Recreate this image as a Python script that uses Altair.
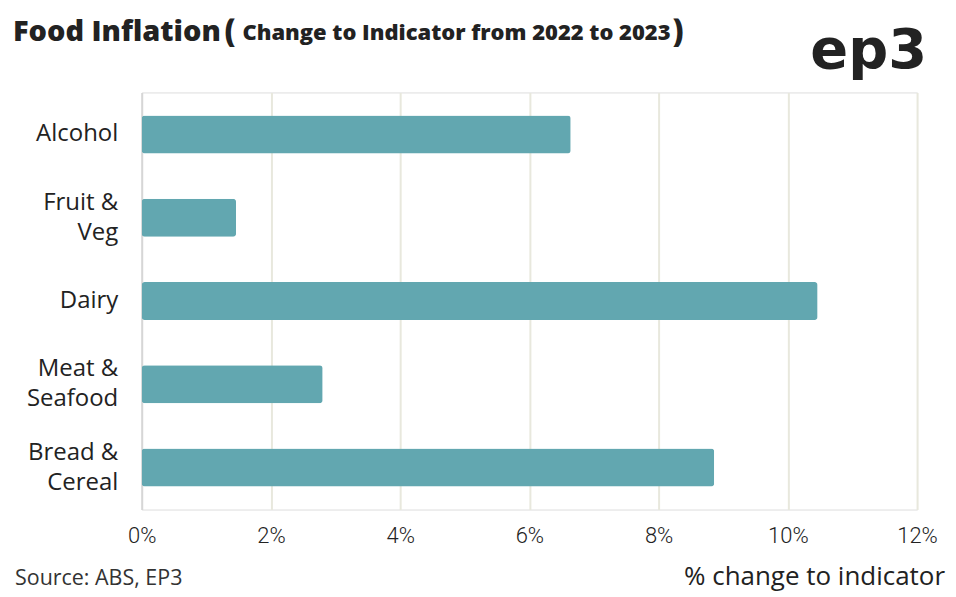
import altair as alt
import pandas as pd

categories = ["Alcohol", "Fruit &\nVeg", "Dairy", "Meat &\nSeafood", "Bread &\nCereal"]
values = [6.64, 1.46, 10.46, 2.80, 8.86]
x_ticks = [0, 2, 4, 6, 8, 10, 12]

df = pd.DataFrame({"cat": categories, "val": values})

W, H = 777, 418
FONT = "Open Sans"
LH = 30

bars = alt.Chart(df).mark_bar(color="#62A7B0", cornerRadius=3).encode(
    x=alt.X("val:Q",
            scale=alt.Scale(domain=[0, 12], nice=False),
            axis=alt.Axis(values=x_ticks, labelExpr="datum.value + '%'",
                          title=None, domain=False, ticks=False, labelFlush=False,
                          labelFontSize=22, labelColor="#222", labelFont="Roboto",
                          labelFontWeight=300,
                          labelPadding=16, grid=True,
                          gridColor={"condition": {"test": "datum.value === 0", "value": "#D6D6D6"}, "value": "#E8E8DD"},
                          gridWidth=2)),
    y=alt.Y("cat:N", sort=categories,
            scale=alt.Scale(paddingInner=0.544, paddingOuter=0.276),
            axis=alt.Axis(title=None, domain=False, ticks=False,
                          labelFontSize=24, labelColor="#222", labelFont=FONT,
                          labelPadding=24, labelLineHeight=LH, labelAlign="right",
                          labelOffset={"condition": {"test": "indexof(datum.label, '\\n') >= 0", "value": -LH / 2}, "value": 0},
                          labelExpr="split(datum.label, '\\n')")),
)

def txt(text, x, y, size, weight="normal", align="left", color="#222", font=FONT):
    return alt.Chart(pd.DataFrame({"t": [text]})).mark_text(
        align=align, baseline="alphabetic", fontSize=size, fontWeight=weight,
        color=color, font=font).encode(
        text="t:N", x=alt.value(x), y=alt.value(y))

ox, oy = 142, 92
title1 = txt("Food Inflation", 13 - ox, 40 - oy, 29, weight=800)
paren1 = txt("(", 225 - ox, 41 - oy, 31, weight=800)
title2 = txt("Change to Indicator from 2022 to 2023", 243 - ox, 39 - oy, 22, weight=800)
paren2 = txt(")", 674 - ox, 41 - oy, 31, weight=800)
logo = txt("ep3", 929 - ox, 68 - oy, 56, weight="bold", align="right", color="#222",
           font="DejaVu Sans")
source = txt("Source: ABS, EP3", 15 - ox, 586 - oy, 21.5, color="#333")
xtitle = txt("% change to indicator", 947 - ox, 586 - oy, 26, align="right", color="#222")

chart = alt.layer(bars, title1, paren1, title2, paren2, logo, source, xtitle).properties(
    width=W, height=H,
    autosize=alt.AutoSizeParams(type="none"),
    padding={"left": 134, "top": 84, "right": 31, "bottom": 86},
).configure_view(stroke=None).configure(background="white")

chart.save("out.html", embed_options={"renderer": "svg", "actions": False})
